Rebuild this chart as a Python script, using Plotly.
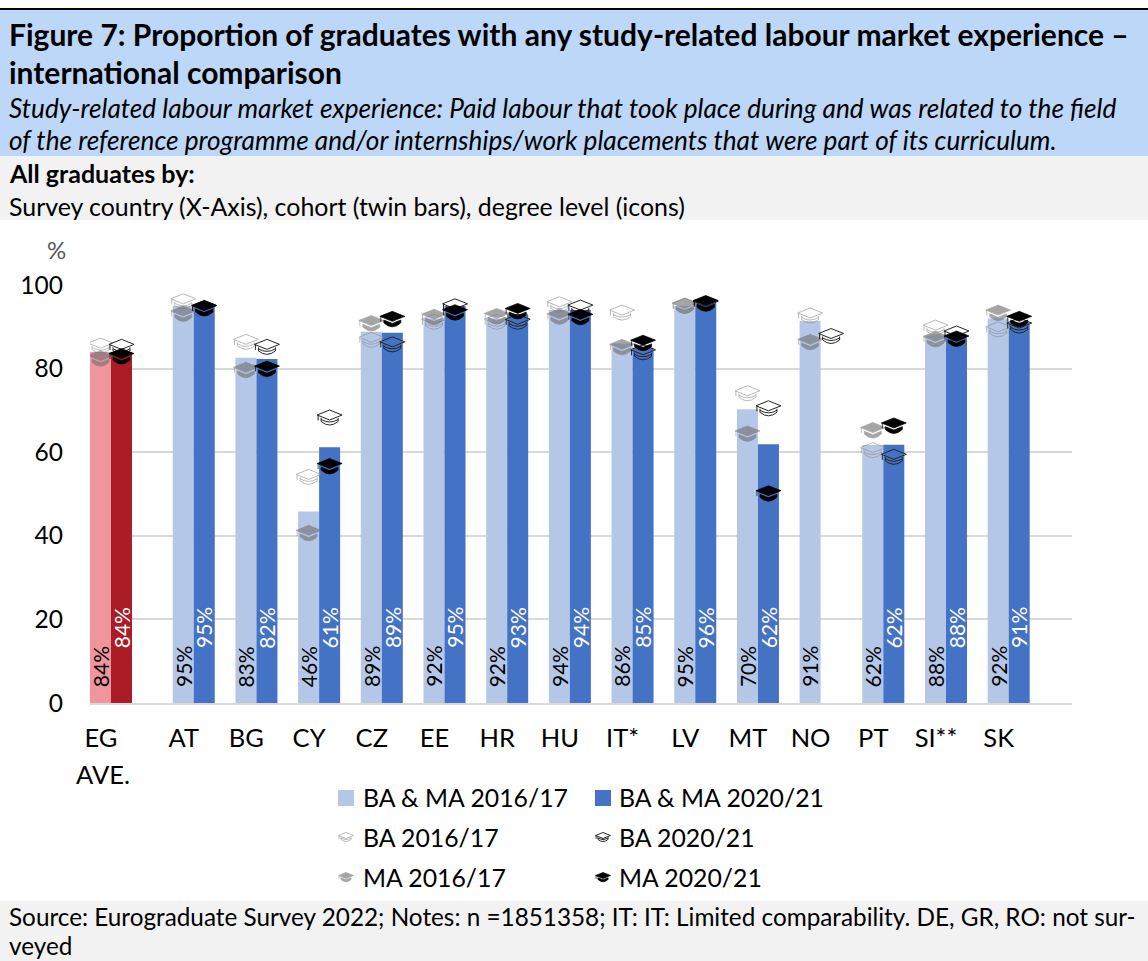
import plotly.graph_objects as go

W, H = 1148, 961

categories = ['EG', 'AT', 'BG', 'CY', 'CZ', 'EE', 'HR', 'HU', 'IT*', 'LV', 'MT', 'NO', 'PT', 'SI**', 'SK']

# bars, both degree levels together
ba_ma_1617 = [84, 95, 82.6, 45.8, 88.8, 92, 92, 94, 86, 95, 70.3, 91.4, 61.7, 88, 92]
ba_ma_2021 = [84, 95, 82.3, 61.2, 88.6, 95, 93, 94, 85, 96, 61.9, None, 61.8, 88, 91]

# icons
ba_1617 = [85.5, 96.1, 86.4, 54.1, 86.9, 91.2, 91.2, 95.4, 93.4, 95.0, 74.1, 92.7, 60.5, 89.8, 89.4]
ba_2021 = [85.2, 94.5, 85.2, 68.3, 85.8, 94.9, 91.2, 94.6, 83.9, 95.5, 70.5, 87.8, 58.9, 88.4, 90.3]
ma_1617 = [82.5, 93.2, 79.7, 40.7, 90.9, 92.4, 92.6, 92.5, 85.2, 95.1, 64.5, 86.4, 65.3, 87.1, 93.4]
ma_2021 = [83.0, 94.5, 80.0, 56.7, 91.9, 93.5, 93.8, 92.4, 86.2, 95.7, 50.2, None, 66.4, 87.2, 91.9]

LIGHT, DARK = '#B4C7E7', '#4472C4'
LIGHT_EG, DARK_EG = '#EF959C', '#AB1C26'
FONT = 'Lato'
BAR_W = 0.335
EG_GAP = 1.32  # EG AVE. stands a bit further off than the countries

x_pos = [0] + [EG_GAP + i for i in range(len(categories) - 1)]


def px(x):
    return x / W


def py(y):
    return 1 - y / H


def hat_path(filled, s=1.0):
    p = lambda x, y: f'{x * s:.2f} {y * s:.2f}'
    board = f'M {p(-12.5, 2.5)} L {p(0, 7.5)} L {p(12.5, 2.5)} L {p(0, -2.5)} Z'
    tassel = f'M {p(-11.5, 2.5)} L {p(-11.5, -3)}'
    if filled:
        bowl = f'M {p(-8.5, -1.2)} L {p(0, -4.6)} L {p(8.5, -1.2)} L {p(8.5, -4)} Q {p(0, -12)} {p(-8.5, -4)} Z'
    else:
        bowl = (f'M {p(-8.5, -0.5)} L {p(-8.5, -4)} Q {p(0, -11)} {p(8.5, -4)} L {p(8.5, -0.5)} '
                f'M {p(-8.5, -2)} Q {p(0, -7)} {p(8.5, -2)}')
    return f'{board} {tassel} {bowl}'


hat_styles = {
    'ba16': dict(filled=False, line='#8C8C8C', fill='rgba(0,0,0,0)', opacity=0.6),
    'ba20': dict(filled=False, line='#262626', fill='rgba(0,0,0,0)', opacity=1),
    'ma16': dict(filled=True, line='#727272', fill='#727272', opacity=0.63),
    'ma20': dict(filled=True, line='#000000', fill='#000000', opacity=1),
}


def hat_shape(style, xanchor, yanchor, xref, yref, s=1.0):
    st = hat_styles[style]
    return dict(type='path', path=hat_path(st['filled'], s),
                xref=xref, yref=yref, xsizemode='pixel', ysizemode='pixel',
                xanchor=xanchor, yanchor=yanchor,
                fillcolor=st['fill'], opacity=st['opacity'],
                line=dict(color=st['line'], width=0.7 if st['filled'] else 1), layer='above')


def text_note(x, y, text, size, color='#000000', **kw):
    return dict(x=px(x), y=py(y), xref='paper', yref='paper', text=text, showarrow=False,
                xanchor='left', yanchor='middle', align='left', xshift=-1,
                font=dict(family=FONT, size=size, color=color), **kw)


fig = go.Figure()

fig.add_trace(go.Bar(
    x=x_pos, y=ba_ma_1617, name='BA & MA 2016/17', width=BAR_W, offset=-BAR_W,
    marker=dict(color=[LIGHT_EG] + [LIGHT] * 14, line=dict(width=0)),
))
fig.add_trace(go.Bar(
    x=x_pos, y=ba_ma_2021, name='BA & MA 2020/21', width=BAR_W, offset=0,
    marker=dict(color=[DARK_EG] + [DARK] * 14, line=dict(width=0)),
))

shapes = [
    dict(type='rect', xref='paper', yref='paper', x0=0, x1=1, y0=py(10), y1=py(156), fillcolor='#BDD7F9', line_width=0, layer='below'),
    dict(type='rect', xref='paper', yref='paper', x0=0, x1=1, y0=py(156), y1=py(220), fillcolor='#F2F2F2', line_width=0, layer='below'),
    dict(type='rect', xref='paper', yref='paper', x0=0, x1=1, y0=py(8), y1=py(10), fillcolor='#000000', line_width=0, layer='below'),
    dict(type='rect', xref='paper', yref='paper', x0=0, x1=1, y0=py(901), y1=py(961), fillcolor='#F2F2F2', line_width=0, layer='below'),
]

# one cap per point, placed by the axes
series = [('ba16', ba_1617, -BAR_W / 2), ('ma16', ma_1617, -BAR_W / 2),
          ('ba20', ba_2021, BAR_W / 2), ('ma20', ma_2021, BAR_W / 2)]
for style, values, dx in series:
    for xp, v in zip(x_pos, values):
        if v is not None:
            shapes.append(hat_shape(style, xp + dx, v, 'x', 'y'))

annotations = [
    text_note(8, 34, '<b>Figure 7: Proportion of graduates with any study-related labour market experience –</b>', 30),
    text_note(8, 72, '<b>international comparison</b>', 30),
    text_note(8, 108, '<i>Study-related labour market experience: Paid labour that took place during and was related to the field</i>', 26.2),
    text_note(8, 140, '<i>of the reference programme and/or internships/work placements that were part of its curriculum.</i>', 26.2),
    text_note(8, 173, '<b>All graduates by:</b>', 25),
    text_note(8, 206, 'Survey country (X-Axis), cohort (twin bars), degree level (icons)', 24.9),
    text_note(46, 250, '%', 24, color='#595959'),
    text_note(8, 916, 'Source: Eurograduate Survey 2022; Notes: n =1851358; IT: IT: Limited comparability. DE, GR, RO: not sur-', 24.3),
    text_note(8, 945.5, 'veyed', 24.3),
    text_note(75, 774, 'AVE.', 25.5),
]

# bar labels: upright, the 2020/21 ones stacked higher than the 2016/17 ones
for values, dx, label_y, color in ((ba_ma_1617, -BAR_W / 2, 8.7, '#000000'), (ba_ma_2021, BAR_W / 2, 18, '#FFFFFF')):
    for xp, v in zip(x_pos, values):
        if v is not None:
            annotations.append(dict(x=xp + dx, y=label_y, xref='x', yref='y', text=f'{v:.0f}%', textangle=-90,
                                    showarrow=False, font=dict(family=FONT, size=21, color=color)))

# legend, drawn by hand for the 40px rows and cap icons
legend_rows = [
    (797, 'BA & MA 2016/17', 'BA & MA 2020/21', None, None),
    (837, 'BA 2016/17', 'BA 2020/21', 'ba16', 'ba20'),
    (877, 'MA 2016/17', 'MA 2020/21', 'ma16', 'ma20'),
]
for y, left, right, hat_l, hat_r in legend_rows:
    annotations.append(text_note(362, y, left, 24.8))
    annotations.append(text_note(618, y, right, 24.8))
    if hat_l:
        shapes.append(hat_shape(hat_l, px(346), py(y), 'paper', 'paper', s=0.6))
        shapes.append(hat_shape(hat_r, px(603), py(y), 'paper', 'paper', s=0.6))
shapes.append(dict(type='rect', xref='paper', yref='paper', x0=px(338), x1=px(354), y0=py(806), y1=py(790), fillcolor=LIGHT, line_width=0))
shapes.append(dict(type='rect', xref='paper', yref='paper', x0=px(595), x1=px(611), y0=py(806), y1=py(790), fillcolor=DARK, line_width=0))

fig.update_layout(
    width=W, height=H, margin=dict(l=0, r=0, t=0, b=0, autoexpand=False),
    paper_bgcolor='#FFFFFF', plot_bgcolor='#FFFFFF',
    barmode='overlay', showlegend=False,
    font=dict(family=FONT, color='#000000'),
    shapes=shapes, annotations=annotations,
    xaxis=dict(domain=[px(90), px(1072)], range=[-BAR_W, 15.33],
               tickmode='array', tickvals=[v - 0.16 for v in x_pos], ticktext=categories,
               tickfont=dict(size=25.5), showgrid=False, zeroline=False, ticks='',
               ticklabelstandoff=11, showline=True, linecolor='#D9D9D9', linewidth=2),
    yaxis=dict(domain=[py(703), py(285)], range=[0, 100], dtick=20, tickfont=dict(size=24.5),
               gridcolor='#D9D9D9', gridwidth=2, zeroline=False, ticks='', ticklabelstandoff=26),
)

fig.write_html('out.html', post_script="document.body.style.margin='0';",
               config=dict(displayModeBar=False))
